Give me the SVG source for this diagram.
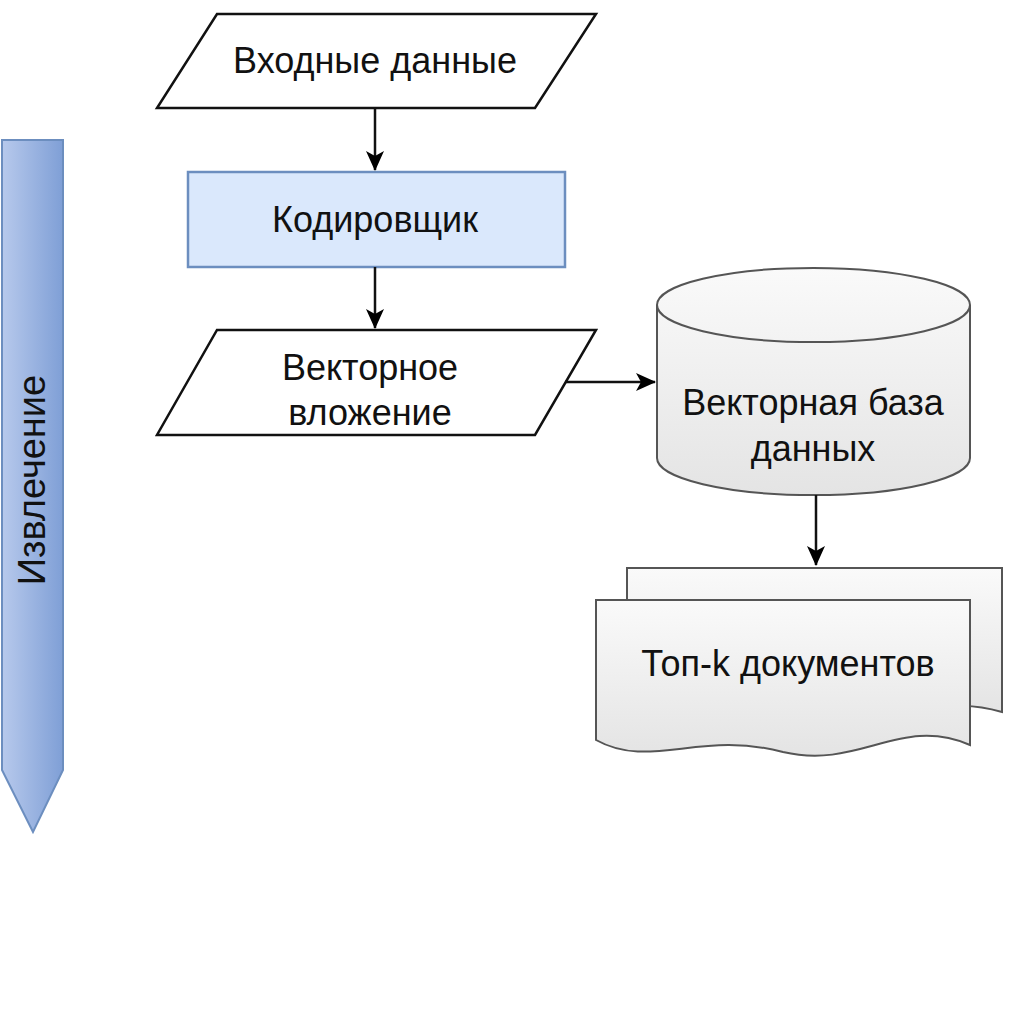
<svg xmlns="http://www.w3.org/2000/svg" width="1024" height="1024" viewBox="0 0 1024 1024">
<defs>
<linearGradient id="bg" x1="0" y1="0" x2="1" y2="0"><stop offset="0" stop-color="#b7c9ec"/><stop offset="1" stop-color="#7f9fd6"/></linearGradient>
<linearGradient id="gg" x1="0" y1="0" x2="0" y2="1"><stop offset="0" stop-color="#fafafa"/><stop offset="1" stop-color="#e4e4e4"/></linearGradient>
<marker id="ah" viewBox="0 0 20 20" refX="19" refY="10" markerWidth="20" markerHeight="22" markerUnits="userSpaceOnUse" orient="auto"><path d="M0,1 L20,10 L0,19 L5,10 z" fill="#000"/></marker>
</defs>
<style>
text{font-family:"Liberation Sans",Arial,sans-serif;font-size:36px;fill:#111;text-anchor:middle}
.s{stroke:#111;stroke-width:2.5;fill:#fff}
.c{stroke:#111;stroke-width:2.5;fill:none;marker-end:url(#ah)}
.g{stroke:#555;stroke-width:2;fill:url(#gg)}
</style>
<rect width="1024" height="1024" fill="#fff"/>
<g id="banner">
<path d="M2,140 H63 V770 L33,832 L2,770 Z" fill="url(#bg)" stroke="#6c8ebf" stroke-width="2"/>
<text transform="translate(45,480) rotate(-90)" style="font-size:38px">Извлечение</text>
</g>
<g id="input"><polygon class="s" points="217,14 596,14 535,108 157,108"/><text x="375" y="73">Входные данные</text></g>
<g id="encoder"><rect x="188" y="172" width="377" height="95" fill="#dae8fc" stroke="#6c8ebf" stroke-width="2.5"/><text x="375" y="232">Кодировщик</text></g>
<g id="embedding"><polygon class="s" points="217,330 596,330 535,435 157,435"/><text x="370" y="380">Векторное</text><text x="370" y="425">вложение</text></g>
<g id="db">
<path class="g" d="M657,305 V458 A156,37 0 0 0 970,458 V305 A156,37 0 0 0 657,305 Z"/>
<path d="M657,305 A156,37 0 0 0 970,305" fill="none" stroke="#555" stroke-width="2"/>
<text x="813" y="415">Векторная база</text><text x="813" y="461">данных</text>
</g>
<g id="docs">
<path class="g" d="M627,568 H1002 V712 Q960,700 930,712 L627,712 Z"/>
<path class="g" d="M596,600 H970 V745 C900,715 860,770 783,752 C700,730 650,770 596,740 Z"/>
<text x="788" y="676">Топ-k документов</text>
</g>
<g id="connectors">
<line class="c" x1="375" y1="108" x2="375" y2="170"/>
<line class="c" x1="375" y1="267" x2="375" y2="328"/>
<line class="c" x1="565" y1="382" x2="655" y2="382"/>
<line class="c" x1="816" y1="495" x2="816" y2="565"/>
</g>
</svg>
